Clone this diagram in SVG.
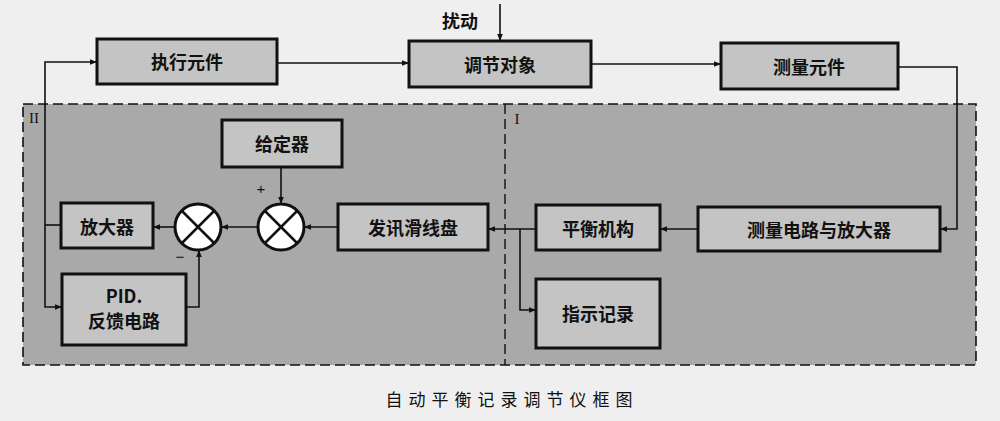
<svg xmlns="http://www.w3.org/2000/svg" width="1000" height="421" viewBox="0 0 1000 421">
<defs>
<marker id="ar" viewBox="0 0 10 10" refX="10" refY="5" markerWidth="9" markerHeight="7" markerUnits="userSpaceOnUse" orient="auto"><path d="M0,1 L10,5 L0,9 Z" fill="#111"/></marker>
</defs>
<style>
.b{fill:#c4c4c4;stroke:#111;stroke-width:3}
.t{font-family:"Noto Sans CJK SC",sans-serif;font-weight:bold;font-size:18px;fill:#111;text-anchor:middle;dominant-baseline:central}
.c line,.c polyline{fill:none;stroke:#111;stroke-width:1.6}
.s{fill:#fff;stroke:#111;stroke-width:3}
</style>
<rect width="1000" height="421" fill="#efefef"/>
<g id="regions">
<rect x="23" y="104" width="953" height="261" fill="#a9a9a9" stroke="#111" stroke-width="1.6" stroke-dasharray="10,5"/>
<line x1="505" y1="104" x2="505" y2="365" stroke="#111" stroke-width="1.4" stroke-dasharray="10,5"/>
<text x="34" y="118" font-family="Liberation Serif,serif" font-size="15" fill="#111" text-anchor="middle" dominant-baseline="central">II</text>
<text x="517" y="119" font-family="Liberation Serif,serif" font-size="15" fill="#111" text-anchor="middle" dominant-baseline="central">I</text>
</g>
<g id="n1"><rect class="b" x="97" y="39" width="180" height="45"/><text class="t" x="187" y="61">执行元件</text></g>
<g id="n2"><rect class="b" x="409" y="41" width="182" height="46"/><text class="t" x="500" y="64">调节对象</text></g>
<g id="n3"><rect class="b" x="721" y="43" width="177" height="46"/><text class="t" x="809" y="66">测量元件</text></g>
<g id="n4"><rect class="b" x="222" y="120" width="120" height="47"/><text class="t" x="282" y="143">给定器</text></g>
<g id="n5"><rect class="b" x="61" y="203" width="92" height="45"/><text class="t" x="107" y="226">放大器</text></g>
<g id="n6"><rect class="b" x="338" y="204" width="150" height="46"/><text class="t" x="413" y="227">发讯滑线盘</text></g>
<g id="n7"><rect class="b" x="62" y="274" width="124" height="71"/><text class="t" x="124" y="295" font-family="Liberation Serif,serif">PID.</text><text class="t" x="124" y="320">反馈电路</text></g>
<g id="n8"><rect class="b" x="536" y="205" width="124" height="45"/><text class="t" x="598" y="228">平衡机构</text></g>
<g id="n9"><rect class="b" x="698" y="207" width="242" height="44"/><text class="t" x="819" y="229">测量电路与放大器</text></g>
<g id="n10"><rect class="b" x="536" y="279" width="124" height="69"/><text class="t" x="598" y="313">指示记录</text></g>
<g id="sum1"><circle class="s" cx="198" cy="227" r="23"/><line x1="182" y1="211" x2="214" y2="243" stroke="#111" stroke-width="2.5"/><line x1="214" y1="211" x2="182" y2="243" stroke="#111" stroke-width="2.5"/></g>
<g id="sum2"><circle class="s" cx="281" cy="227" r="23"/><line x1="265" y1="211" x2="297" y2="243" stroke="#111" stroke-width="2.5"/><line x1="297" y1="211" x2="265" y2="243" stroke="#111" stroke-width="2.5"/></g>
<g class="c" id="connectors">
<line x1="500" y1="4" x2="500" y2="41" marker-end="url(#ar)"/>
<line x1="277" y1="63" x2="409" y2="63" marker-end="url(#ar)"/>
<line x1="591" y1="64" x2="721" y2="64" marker-end="url(#ar)"/>
<polyline points="898,67 957,67 957,229 940,229" marker-end="url(#ar)"/>
<line x1="698" y1="229" x2="660" y2="229" marker-end="url(#ar)"/>
<line x1="536" y1="229" x2="488" y2="229" marker-end="url(#ar)"/>
<polyline points="520,229 520,310 536,310" marker-end="url(#ar)"/>
<line x1="338" y1="227" x2="304" y2="227" marker-end="url(#ar)"/>
<line x1="281" y1="167" x2="281" y2="204" marker-end="url(#ar)"/>
<line x1="258" y1="227" x2="221" y2="227" marker-end="url(#ar)"/>
<line x1="175" y1="227" x2="153" y2="227" marker-end="url(#ar)"/>
<polyline points="61,225 45,225"/>
<polyline points="45,225 45,62 97,62" marker-end="url(#ar)"/>
<polyline points="45,225 45,307 62,307" marker-end="url(#ar)"/>
<polyline points="186,307 199,307 199,250" marker-end="url(#ar)"/>
</g>
<g id="labels">
<text class="t" x="460" y="20">扰动</text>
<text x="261" y="188" font-family="Liberation Sans,sans-serif" font-size="15" fill="#111" text-anchor="middle" dominant-baseline="central">+</text>
<text x="180" y="256" font-family="Liberation Sans,sans-serif" font-size="15" fill="#111" text-anchor="middle" dominant-baseline="central">−</text>
<text x="512" y="398" font-family="Noto Sans CJK SC,sans-serif" font-size="17" letter-spacing="6" fill="#111" text-anchor="middle" dominant-baseline="central">自动平衡记录调节仪框图</text>
</g>
</svg>
